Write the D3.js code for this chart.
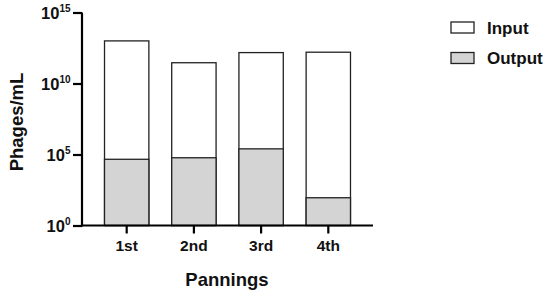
<!DOCTYPE html>
<html>
<head>
<meta charset="utf-8">
<script src="https://cdn.jsdelivr.net/npm/d3@7"></script>
<style>
  body { margin: 0; background: #fff; }
  text { font-family: Arial, "Liberation Sans", sans-serif; font-weight: bold; fill: #111; }
</style>
</head>
<body>
<div id="chart"></div>
<script>
//data
const pannings = ["1st", "2nd", "3rd", "4th"];
const inputValues = [1.0e13, 2.9e11, 1.5e12, 1.6e12];
const outputValues = [4.6e4, 5.9e4, 2.5e5, 90];
const yTickExponents = [0, 5, 10, 15];
const legendLabels = ["Input", "Output"];
const legendFills = ["#ffffff", "#d4d4d4"];

const width = 550, height = 295;
const plotLeft = 82, plotRight = 373, plotTop = 12.5, plotBottom = 225.5;

const svg = d3.select("#chart").append("svg")
  .attr("width", width)
  .attr("height", height);

const x = d3.scaleBand()
  .domain(pannings)
  .range([plotLeft, plotRight])
  .paddingInner(0.34)
  .paddingOuter(0.335);

const y = d3.scaleLog()
  .domain([1, 1e15])
  .range([plotBottom, plotTop]);

//bars: input behind, output on top (both from the baseline)
const drawBars = (values, fill) => {
  svg.append("g")
    .selectAll("rect")
    .data(values)
    .join("rect")
    .attr("x", (d, i) => x(pannings[i]))
    .attr("y", d => y(d))
    .attr("width", x.bandwidth())
    .attr("height", d => y(1) - y(d))
    .attr("fill", fill)
    .attr("stroke", "#222")
    .attr("stroke-width", 1.3);
};
drawBars(inputValues, legendFills[0]);
drawBars(outputValues, legendFills[1]);

//y axis
const yAxis = svg.append("g")
  .attr("transform", `translate(${plotLeft},0)`)
  .call(d3.axisLeft(y)
    .tickValues(yTickExponents.map(e => Math.pow(10, e)))
    .tickSize(9)
    .tickFormat(""));
yAxis.select(".domain").attr("stroke", "#000").attr("stroke-width", 2.2)
  .attr("d", `M0,${plotTop}V${plotBottom + 1}`);
yAxis.selectAll(".tick line").attr("stroke", "#000").attr("stroke-width", 2.2);

//tick labels with superscripts
yTickExponents.forEach(e => {
  const t = svg.append("text")
    .attr("x", 70.5)
    .attr("y", y(Math.pow(10, e)) + 6)
    .attr("text-anchor", "end")
    .style("font-size", "16.5px");
  t.append("tspan").text("10");
  t.append("tspan")
    .attr("dy", -7)
    .style("font-size", "10px")
    .text(e);
});

//x axis
const xAxis = svg.append("g")
  .attr("transform", `translate(0,${plotBottom})`)
  .call(d3.axisBottom(x).tickSize(8).tickPadding(6));
xAxis.select(".domain").attr("stroke", "#000").attr("stroke-width", 2.2)
  .attr("d", `M${plotLeft - 1},0H${plotRight}`);
xAxis.selectAll(".tick line").attr("stroke", "#000").attr("stroke-width", 2.2);
xAxis.selectAll(".tick text")
  .style("font-size", "15.5px")
  .style("font-family", "Arial, 'Liberation Sans', sans-serif")
  .style("font-weight", "bold")
  .attr("fill", "#111");

//axis titles
svg.append("text")
  .attr("x", 227)
  .attr("y", 286)
  .attr("text-anchor", "middle")
  .style("font-size", "18.5px")
  .text("Pannings");

svg.append("text")
  .attr("transform", "translate(23,122) rotate(-90)")
  .attr("text-anchor", "middle")
  .style("font-size", "18.5px")
  .text("Phages/mL");

//legend
const legend = svg.append("g");
legendLabels.forEach((label, i) => {
  const ly = 22 + i * 30.5;
  legend.append("rect")
    .attr("x", 451)
    .attr("y", ly)
    .attr("width", 23)
    .attr("height", 11)
    .attr("fill", legendFills[i])
    .attr("stroke", "#222")
    .attr("stroke-width", 1.3);
  legend.append("text")
    .attr("x", 487)
    .attr("y", ly + 11.5)
    .style("font-size", "17px")
    .text(label);
});
</script>
</body>
</html>
